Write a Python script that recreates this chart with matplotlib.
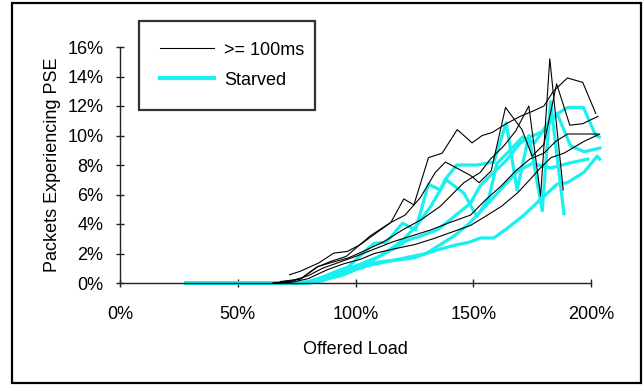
import matplotlib.pyplot as plt
from matplotlib.patches import Rectangle
from matplotlib.lines import Line2D

plt.rcParams['font.family'] = ['Liberation Sans', 'DejaVu Sans']

# offered load (%) and packets experiencing PSE (%) for the >= 100ms runs
load_k1 = [72, 76.6, 84.4, 90.8, 96.5, 102, 108, 115, 120.5, 124.8, 131, 136.8, 143.2, 149.5, 153.8, 158, 164, 170, 176, 180, 184, 190, 196.5, 202]
pse_k1 = [0.56, 0.8, 1.36, 2.03, 2.14, 2.6, 3.3, 4.1, 5.7, 5.3, 8.5, 8.8, 10.4, 9.5, 10.0, 10.2, 10.8, 11.3, 11.7, 12.0, 13.0, 13.9, 13.6, 11.5]
load_k2 = [66, 72, 77, 84, 89.4, 96, 106.3, 114.9, 121, 127.6, 133.9, 138.2, 148.8, 152.5, 157.6, 163.7, 170.7, 175, 180, 185.4, 191, 196.5, 203]
pse_k2 = [0, 0.1, 0.3, 1.1, 1.46, 1.8, 3.2, 4.1, 4.6, 5.8, 7.5, 8.2, 7.3, 6.8, 7.6, 11.9, 10.4, 8.6, 9.4, 13.5, 10.7, 10.8, 11.3]
load_k3 = [68, 76.6, 83.7, 90, 97, 104, 112, 120, 128, 136, 146, 153, 157.3, 163, 168, 173.6, 178.6, 182.5, 188.2]
pse_k3 = [0.1, 0.27, 1.1, 1.4, 1.7, 2.2, 2.8, 3.6, 4.3, 5.2, 6.8, 7.5, 8.4, 9.3, 10.3, 12.0, 5.9, 15.2, 6.3]
load_k4 = [65, 72, 80, 86, 93, 100, 108, 116, 124, 132, 140, 148.8, 155, 162, 168, 174, 180, 185, 190, 197, 203]
pse_k4 = [0, 0.1, 0.5, 1.0, 1.4, 1.8, 2.3, 2.8, 3.2, 3.6, 4.1, 4.6, 5.6, 6.6, 7.6, 8.4, 8.8, 9.6, 10.1, 10.1, 10.1]
load_k5 = [65, 73, 80, 88, 95, 102, 108, 116, 125, 133, 140, 148.8, 155, 162, 168.7, 174, 178.5, 183, 188.5, 197, 203.7]
pse_k5 = [0, 0.05, 0.3, 0.9, 1.3, 1.6, 2.0, 2.3, 2.6, 3.0, 3.4, 3.9, 4.5, 5.2, 6.1, 7.0, 7.8, 8.5, 8.8, 9.6, 10.1]

# starved runs
load_c1 = [28, 40, 52, 63, 75, 80, 86, 92, 97, 103, 108, 113, 120, 125.5, 131, 136, 138, 143, 151.7, 158.7, 164, 168.6, 173.6, 179.3, 182.8, 188.5]
pse_c1 = [0, 0, 0, 0, 0, 0.1, 0.4, 0.8, 1.1, 2.0, 2.7, 2.75, 4.05, 3.6, 6.7, 6.3, 7.0, 8.0, 8.0, 8.2, 10.85, 6.3, 10.0, 4.9, 12.3, 4.7]
load_c2 = [28, 40, 52, 63, 75, 80, 86, 92, 97, 103, 108, 114, 120, 126, 132, 138.5, 146, 151.5, 156.7, 160, 165, 171, 176, 182.9, 186, 190, 196.8, 202, 203.5]
pse_c2 = [0, 0, 0, 0, 0, 0.05, 0.3, 0.6, 1.0, 1.3, 1.6, 2.2, 2.9, 3.9, 5.2, 7.0, 6.1, 4.5, 5.8, 8.1, 8.9, 9.9, 9.5, 11.1, 11.5, 11.9, 11.9, 10.0, 9.9]
load_c3 = [28, 40, 52, 63, 75, 81, 87, 93, 98, 104, 110, 116, 122, 128, 134.7, 140.3, 148.8, 153, 158, 164, 170, 174, 180, 185.6, 191.3, 197, 203.8]
pse_c3 = [0, 0, 0, 0, 0, 0.05, 0.3, 0.7, 1.0, 1.4, 1.8, 2.3, 2.9, 3.2, 3.6, 4.3, 5.4, 6.6, 7.4, 8.3, 9.5, 9.9, 10.3, 11.5, 9.3, 8.9, 9.15]
load_c4 = [28, 40, 52, 63, 75, 82, 88, 94, 100, 106, 112, 118, 124, 130, 136, 142, 148, 154, 162, 169, 175, 183, 190, 198.6]
pse_c4 = [0, 0, 0, 0, 0, 0.05, 0.3, 0.5, 0.9, 1.2, 1.4, 1.6, 1.8, 2.0, 2.6, 3.2, 4.0, 5.0, 6.4, 7.6, 8.1, 7.8, 8.1, 8.4]
load_c5 = [28, 40, 52, 63, 75, 80, 86, 92, 97, 101, 106, 111, 117, 124.8, 130, 136, 143.2, 148, 153, 158.7, 164.4, 171.5, 178.5, 185.6, 189.9, 197, 202.6, 203.7]
pse_c5 = [0, 0, 0, 0, 0, 0, 0.15, 0.5, 0.8, 1.1, 1.3, 1.45, 1.55, 1.7, 2.0, 2.3, 2.6, 2.75, 3.05, 3.05, 3.7, 4.6, 5.65, 6.7, 6.8, 7.5, 8.6, 8.4]

x_ticks = [0, 50, 100, 150, 200]
x_labels = ['0%', '50%', '100%', '150%', '200%']
y_ticks = [0, 2, 4, 6, 8, 10, 12, 14, 16]
y_labels = ['0%', '2%', '4%', '6%', '8%', '10%', '12%', '14%', '16%']

cyan = '#19F0F0'
fs = 13

fig = plt.figure(figsize=(6.44, 3.85), dpi=100)
ax = fig.add_axes([120/644, 102/385, 471/644, 236/385])

for xs, ys in [(load_c1, pse_c1), (load_c2, pse_c2), (load_c3, pse_c3), (load_c4, pse_c4), (load_c5, pse_c5)]:
    ax.plot(xs, ys, color=cyan, lw=2.3, clip_on=False, zorder=2)
for xs, ys in [(load_k1, pse_k1), (load_k2, pse_k2), (load_k3, pse_k3), (load_k4, pse_k4), (load_k5, pse_k5)]:
    ax.plot(xs, ys, color='black', lw=0.8, clip_on=False, zorder=3)

ax.set_xlim(0, 200)
ax.set_ylim(0, 16)
ax.set_xticks(x_ticks)
ax.set_xticklabels(x_labels)
ax.set_yticks(y_ticks)
ax.set_yticklabels(y_labels)
for s in ['top', 'right']:
    ax.spines[s].set_visible(False)
for s in ['left', 'bottom']:
    ax.spines[s].set_linewidth(1.0)
    ax.spines[s].set_color('#222222')
ax.tick_params(direction='inout', length=6, width=1.0, labelsize=fs, color='#222222')
ax.tick_params(axis='x', pad=13.5)
ax.tick_params(axis='y', pad=9)
ax.set_xlabel('Offered Load', fontsize=fs, labelpad=13)
ax.set_ylabel('Packets Experiencing PSE', fontsize=fs, labelpad=4.5)

handles = [Line2D([], [], color='black', lw=0.8), Line2D([], [], color=cyan, lw=3.0)]
leg = fig.legend(handles, ['>= 100ms', 'Starved'], loc='upper left',
                 bbox_to_anchor=(139/644, 1 - 107/385, 176/644, 86/385),
                 mode='expand', fontsize=fs,
                 frameon=True, fancybox=False, handlelength=3.0,
                 handletextpad=0.55, labelspacing=0.72, borderpad=1.15,
                 borderaxespad=0)
leg.get_frame().set_edgecolor('black')
leg.get_frame().set_linewidth(1.6)

# outer frame round the whole figure
fig.patches.append(Rectangle((12/644, 2/385), 629/644, 380/385, transform=fig.transFigure,
                             fill=False, edgecolor='black', lw=1.6))

fig.savefig('out.png', dpi=100)
